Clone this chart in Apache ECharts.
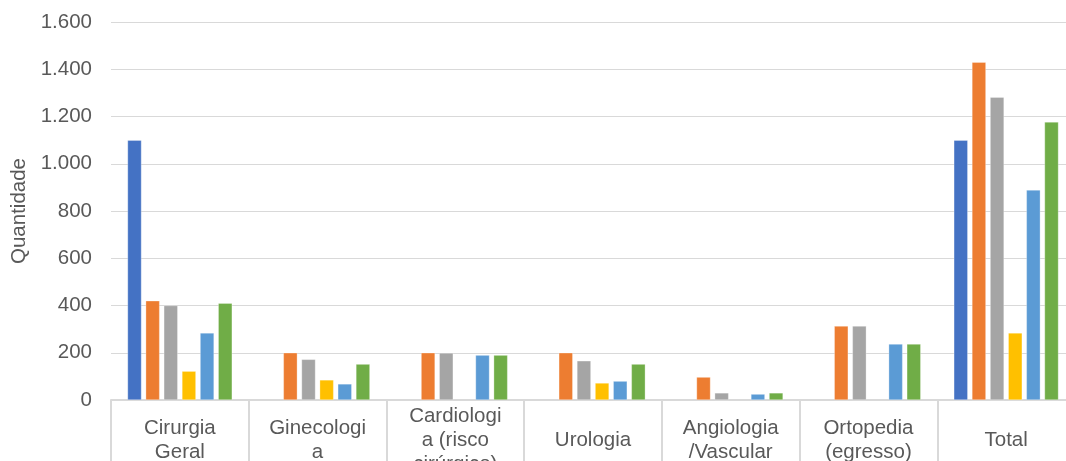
<!DOCTYPE html>
<html><head><meta charset="utf-8">
<script src="https://cdn.jsdelivr.net/npm/echarts@6/dist/echarts.min.js"></script>
<style>html,body{margin:0;padding:0;background:#fff}#c{width:1066px;height:461px}</style>
</head><body><div id="c"></div>
<script>
const categories = ["Cirurgia\nGeral", "Ginecologi\na", "Cardiologi\na (risco\ncirúrgico)", "Urologia", "Angiologia\n/Vascular", "Ortopedia\n(egresso)", "Total"];
const s1 = [1100, null, null, null, null, null, 1100];
const s2 = [420, 200, 200, 200, 97, 313, 1430];
const s3 = [400, 172, 199, 166, 30, 313, 1282];
const s4 = [122, 85, null, 72, null, null, 284];
const s5 = [284, 68, 190, 80, 25, 237, 889];
const s6 = [410, 152, 190, 152, 30, 237, 1177];
const colors = ["#4472C4", "#ED7D31", "#A5A5A5", "#FFC000", "#5B9BD5", "#70AD47"];
const seriesData = [s1, s2, s3, s4, s5, s6];
const yTicks = {min: 0, max: 1600, interval: 200};

const chart = echarts.init(document.getElementById('c'), null, {renderer: 'canvas'});
const font = 'Liberation Sans, Arial, sans-serif';
chart.setOption({
  animation: false,
  grid: {left: 111, right: -9, top: 22, bottom: 61, containLabel: false, outerBoundsMode: 'none'},
  xAxis: {
    type: 'category', data: categories,
    axisLine: {lineStyle: {color: '#d9d9d9', width: 2}},
    axisTick: {show: true, length: 61, interval: 0, lineStyle: {color: '#d9d9d9', width: 2}},
    axisLabel: {interval: 0, color: '#595959', fontSize: 20.5, fontFamily: font, lineHeight: 24, verticalAlign: 'middle', margin: 40, hideOverlap: false}
  },
  yAxis: {
    type: 'value', min: yTicks.min, max: yTicks.max, interval: yTicks.interval,
    name: 'Quantidade', nameLocation: 'middle', nameGap: 80,
    nameTextStyle: {color: '#595959', fontSize: 20.5, fontFamily: font},
    axisLine: {show: false}, axisTick: {show: false},
    splitLine: {lineStyle: {color: '#d9d9d9', width: 1}},
    axisLabel: {color: '#595959', fontSize: 20.5, fontFamily: font, margin: 19,
      formatter: v => v.toString().replace(/\B(?=(\d{3})+(?!\d))/g, '.')}
  },
  series: seriesData.map((d, i) => ({
    type: 'bar', data: d, barGap: '30%', barCategoryGap: '24%',
    itemStyle: {color: colors[i], borderColor: 'rgba(255,255,255,0.6)', borderWidth: 0.5}
  }))
});
</script></body></html>
